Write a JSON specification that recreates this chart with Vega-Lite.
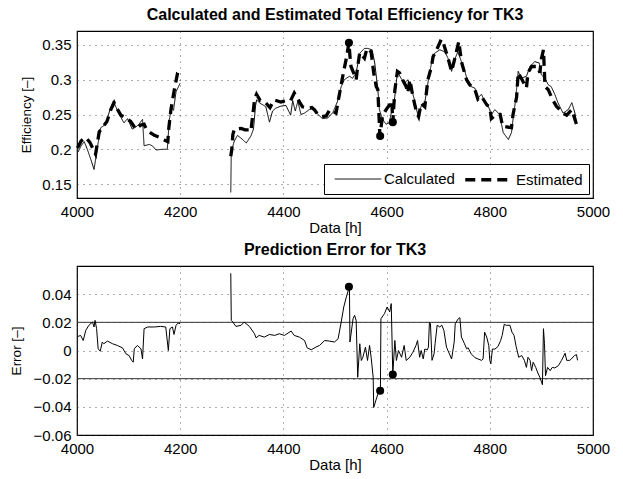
{
  "$schema": "https://vega.github.io/schema/vega-lite/v6.json",
  "padding": {"left": 8, "top": 6, "right": 5, "bottom": 4},
  "background": "white",
  "spacing": 5,
  "resolve": {"legend": {"strokeDash": "independent", "strokeWidth": "independent"}},
  "config": {
    "font": "Liberation Sans",
    "view": {"stroke": "black", "strokeWidth": 1.2},
    "axis": {
      "labelFont": "Liberation Sans", "labelFontSize": 15, "labelColor": "black", "labelOverlap": false, "labelFlush": false,
      "titleFont": "Liberation Sans", "titleFontSize": 15, "titleFontWeight": "normal", "titleColor": "black",
      "domain": false, "ticks": false, "grid": true, "gridColor": "#333", "gridDash": [1, 5], "gridWidth": 1, "gridOpacity": 0.8,
      "labelPadding": 6
    },
    "axisY": {"titleFontSize": 13.5},
    "axisX": {"titlePadding": 1},
    "title": {"font": "Liberation Sans", "fontSize": 16, "fontWeight": "bold", "color": "black", "offset": 8, "anchor": "middle"},
    "legend": {
      "labelFont": "Liberation Sans", "labelFontSize": 15, "labelColor": "black"
    }
  },
  "datasets": {
    "eff": [
      {"h":4002,"v":0.196,"s":"Calculated","g":1},{"h":4008,"v":0.205,"s":"Calculated","g":1},{"h":4014,"v":0.211,"s":"Calculated","g":1},{"h":4020,"v":0.2,"s":"Calculated","g":1},{"h":4027,"v":0.185,"s":"Calculated","g":1},{"h":4033,"v":0.171,"s":"Calculated","g":1},{"h":4040,"v":0.205,"s":"Calculated","g":1},{"h":4046,"v":0.231,"s":"Calculated","g":1},{"h":4056,"v":0.236,"s":"Calculated","g":1},{"h":4063,"v":0.255,"s":"Calculated","g":1},{"h":4070,"v":0.269,"s":"Calculated","g":1},{"h":4076,"v":0.26,"s":"Calculated","g":1},{"h":4082,"v":0.25,"s":"Calculated","g":1},{"h":4091,"v":0.238,"s":"Calculated","g":1},{"h":4098,"v":0.244,"s":"Calculated","g":1},{"h":4107,"v":0.229,"s":"Calculated","g":1},{"h":4114,"v":0.232,"s":"Calculated","g":1},{"h":4120,"v":0.236,"s":"Calculated","g":1},{"h":4127,"v":0.243,"s":"Calculated","g":1},{"h":4130,"v":0.205,"s":"Calculated","g":1},{"h":4140,"v":0.207,"s":"Calculated","g":1},{"h":4146,"v":0.205,"s":"Calculated","g":1},{"h":4153,"v":0.199,"s":"Calculated","g":1},{"h":4166,"v":0.2,"s":"Calculated","g":1},{"h":4175,"v":0.2,"s":"Calculated","g":1},{"h":4179,"v":0.243,"s":"Calculated","g":1},{"h":4183,"v":0.26,"s":"Calculated","g":1},{"h":4187,"v":0.256,"s":"Calculated","g":1},{"h":4192,"v":0.283,"s":"Calculated","g":1},{"h":4200,"v":0.295,"s":"Calculated","g":1},
      {"h":4298,"v":0.138,"s":"Calculated","g":2},{"h":4299,"v":0.197,"s":"Calculated","g":2},{"h":4305,"v":0.212,"s":"Calculated","g":2},{"h":4311,"v":0.22,"s":"Calculated","g":2},{"h":4321,"v":0.214,"s":"Calculated","g":2},{"h":4328,"v":0.209,"s":"Calculated","g":2},{"h":4337,"v":0.219,"s":"Calculated","g":2},{"h":4342,"v":0.229,"s":"Calculated","g":2},{"h":4346,"v":0.262,"s":"Calculated","g":2},{"h":4348,"v":0.271,"s":"Calculated","g":2},{"h":4355,"v":0.266,"s":"Calculated","g":2},{"h":4360,"v":0.264,"s":"Calculated","g":2},{"h":4366,"v":0.261,"s":"Calculated","g":2},{"h":4373,"v":0.239,"s":"Calculated","g":2},{"h":4379,"v":0.255,"s":"Calculated","g":2},{"h":4385,"v":0.259,"s":"Calculated","g":2},{"h":4395,"v":0.262,"s":"Calculated","g":2},{"h":4405,"v":0.263,"s":"Calculated","g":2},{"h":4414,"v":0.249,"s":"Calculated","g":2},{"h":4418,"v":0.27,"s":"Calculated","g":2},{"h":4423,"v":0.255,"s":"Calculated","g":2},{"h":4428,"v":0.269,"s":"Calculated","g":2},{"h":4434,"v":0.25,"s":"Calculated","g":2},{"h":4441,"v":0.252,"s":"Calculated","g":2},{"h":4450,"v":0.257,"s":"Calculated","g":2},{"h":4457,"v":0.259,"s":"Calculated","g":2},{"h":4467,"v":0.25,"s":"Calculated","g":2},{"h":4476,"v":0.244,"s":"Calculated","g":2},{"h":4486,"v":0.245,"s":"Calculated","g":2},{"h":4496,"v":0.253,"s":"Calculated","g":2},{"h":4505,"v":0.269,"s":"Calculated","g":2},{"h":4512,"v":0.29,"s":"Calculated","g":2},{"h":4518,"v":0.3,"s":"Calculated","g":2},{"h":4528,"v":0.305,"s":"Calculated","g":2},{"h":4534,"v":0.302,"s":"Calculated","g":2},{"h":4541,"v":0.31,"s":"Calculated","g":2},{"h":4548,"v":0.338,"s":"Calculated","g":2},{"h":4557,"v":0.345,"s":"Calculated","g":2},{"h":4563,"v":0.345,"s":"Calculated","g":2},{"h":4572,"v":0.343,"s":"Calculated","g":2},{"h":4577,"v":0.324,"s":"Calculated","g":2},{"h":4583,"v":0.286,"s":"Calculated","g":2},{"h":4586,"v":0.257,"s":"Calculated","g":2},{"h":4590,"v":0.248,"s":"Calculated","g":2},{"h":4595,"v":0.24,"s":"Calculated","g":2},{"h":4599,"v":0.236,"s":"Calculated","g":2},{"h":4605,"v":0.238,"s":"Calculated","g":2},{"h":4609,"v":0.252,"s":"Calculated","g":2},{"h":4612,"v":0.256,"s":"Calculated","g":2},{"h":4616,"v":0.276,"s":"Calculated","g":2},{"h":4621,"v":0.312,"s":"Calculated","g":2},{"h":4628,"v":0.302,"s":"Calculated","g":2},{"h":4635,"v":0.295,"s":"Calculated","g":2},{"h":4641,"v":0.3,"s":"Calculated","g":2},{"h":4647,"v":0.29,"s":"Calculated","g":2},{"h":4654,"v":0.271,"s":"Calculated","g":2},{"h":4661,"v":0.248,"s":"Calculated","g":2},{"h":4667,"v":0.262,"s":"Calculated","g":2},{"h":4674,"v":0.267,"s":"Calculated","g":2},{"h":4680,"v":0.295,"s":"Calculated","g":2},{"h":4687,"v":0.324,"s":"Calculated","g":2},{"h":4693,"v":0.338,"s":"Calculated","g":2},{"h":4703,"v":0.343,"s":"Calculated","g":2},{"h":4713,"v":0.34,"s":"Calculated","g":2},{"h":4719,"v":0.331,"s":"Calculated","g":2},{"h":4726,"v":0.312,"s":"Calculated","g":2},{"h":4732,"v":0.329,"s":"Calculated","g":2},{"h":4738,"v":0.34,"s":"Calculated","g":2},{"h":4745,"v":0.326,"s":"Calculated","g":2},{"h":4751,"v":0.314,"s":"Calculated","g":2},{"h":4758,"v":0.295,"s":"Calculated","g":2},{"h":4764,"v":0.29,"s":"Calculated","g":2},{"h":4771,"v":0.288,"s":"Calculated","g":2},{"h":4777,"v":0.274,"s":"Calculated","g":2},{"h":4784,"v":0.279,"s":"Calculated","g":2},{"h":4790,"v":0.269,"s":"Calculated","g":2},{"h":4797,"v":0.262,"s":"Calculated","g":2},{"h":4803,"v":0.25,"s":"Calculated","g":2},{"h":4810,"v":0.257,"s":"Calculated","g":2},{"h":4819,"v":0.25,"s":"Calculated","g":2},{"h":4826,"v":0.224,"s":"Calculated","g":2},{"h":4836,"v":0.214,"s":"Calculated","g":2},{"h":4842,"v":0.224,"s":"Calculated","g":2},{"h":4845,"v":0.243,"s":"Calculated","g":2},{"h":4850,"v":0.271,"s":"Calculated","g":2},{"h":4855,"v":0.312,"s":"Calculated","g":2},{"h":4861,"v":0.302,"s":"Calculated","g":2},{"h":4871,"v":0.305,"s":"Calculated","g":2},{"h":4878,"v":0.319,"s":"Calculated","g":2},{"h":4887,"v":0.326,"s":"Calculated","g":2},{"h":4896,"v":0.324,"s":"Calculated","g":2},{"h":4900,"v":0.307,"s":"Calculated","g":2},{"h":4907,"v":0.302,"s":"Calculated","g":2},{"h":4913,"v":0.293,"s":"Calculated","g":2},{"h":4919,"v":0.29,"s":"Calculated","g":2},{"h":4926,"v":0.279,"s":"Calculated","g":2},{"h":4932,"v":0.267,"s":"Calculated","g":2},{"h":4942,"v":0.252,"s":"Calculated","g":2},{"h":4952,"v":0.257,"s":"Calculated","g":2},{"h":4959,"v":0.267,"s":"Calculated","g":2},{"h":4965,"v":0.252,"s":"Calculated","g":2},{"h":4968,"v":0.238,"s":"Calculated","g":2},
      {"h":4001,"v":0.202,"s":"Estimated","g":1},{"h":4008,"v":0.212,"s":"Estimated","g":1},{"h":4017,"v":0.217,"s":"Estimated","g":1},{"h":4025,"v":0.21,"s":"Estimated","g":1},{"h":4036,"v":0.193,"s":"Estimated","g":1},{"h":4043,"v":0.225,"s":"Estimated","g":1},{"h":4050,"v":0.232,"s":"Estimated","g":1},{"h":4058,"v":0.24,"s":"Estimated","g":1},{"h":4066,"v":0.258,"s":"Estimated","g":1},{"h":4072,"v":0.267,"s":"Estimated","g":1},{"h":4078,"v":0.258,"s":"Estimated","g":1},{"h":4085,"v":0.249,"s":"Estimated","g":1},{"h":4093,"v":0.246,"s":"Estimated","g":1},{"h":4104,"v":0.24,"s":"Estimated","g":1},{"h":4114,"v":0.229,"s":"Estimated","g":1},{"h":4124,"v":0.235,"s":"Estimated","g":1},{"h":4130,"v":0.236,"s":"Estimated","g":1},{"h":4135,"v":0.228,"s":"Estimated","g":1},{"h":4142,"v":0.224,"s":"Estimated","g":1},{"h":4150,"v":0.22,"s":"Estimated","g":1},{"h":4160,"v":0.217,"s":"Estimated","g":1},{"h":4170,"v":0.213,"s":"Estimated","g":1},{"h":4176,"v":0.211,"s":"Estimated","g":1},{"h":4178,"v":0.231,"s":"Estimated","g":1},{"h":4182,"v":0.257,"s":"Estimated","g":1},{"h":4188,"v":0.283,"s":"Estimated","g":1},{"h":4195,"v":0.31,"s":"Estimated","g":1},{"h":4200,"v":0.315,"s":"Estimated","g":1},
      {"h":4298,"v":0.19,"s":"Estimated","g":2},{"h":4300,"v":0.2,"s":"Estimated","g":2},{"h":4302,"v":0.221,"s":"Estimated","g":2},{"h":4305,"v":0.229,"s":"Estimated","g":2},{"h":4318,"v":0.23,"s":"Estimated","g":2},{"h":4326,"v":0.228,"s":"Estimated","g":2},{"h":4334,"v":0.228,"s":"Estimated","g":2},{"h":4337,"v":0.226,"s":"Estimated","g":2},{"h":4344,"v":0.271,"s":"Estimated","g":2},{"h":4348,"v":0.279,"s":"Estimated","g":2},{"h":4355,"v":0.27,"s":"Estimated","g":2},{"h":4363,"v":0.269,"s":"Estimated","g":2},{"h":4368,"v":0.265,"s":"Estimated","g":2},{"h":4374,"v":0.26,"s":"Estimated","g":2},{"h":4382,"v":0.271,"s":"Estimated","g":2},{"h":4395,"v":0.268,"s":"Estimated","g":2},{"h":4405,"v":0.27,"s":"Estimated","g":2},{"h":4414,"v":0.27,"s":"Estimated","g":2},{"h":4421,"v":0.281,"s":"Estimated","g":2},{"h":4425,"v":0.276,"s":"Estimated","g":2},{"h":4432,"v":0.267,"s":"Estimated","g":2},{"h":4437,"v":0.261,"s":"Estimated","g":2},{"h":4447,"v":0.259,"s":"Estimated","g":2},{"h":4455,"v":0.26,"s":"Estimated","g":2},{"h":4460,"v":0.257,"s":"Estimated","g":2},{"h":4467,"v":0.25,"s":"Estimated","g":2},{"h":4475,"v":0.247,"s":"Estimated","g":2},{"h":4483,"v":0.248,"s":"Estimated","g":2},{"h":4490,"v":0.257,"s":"Estimated","g":2},{"h":4502,"v":0.252,"s":"Estimated","g":2},{"h":4509,"v":0.281,"s":"Estimated","g":2},{"h":4515,"v":0.305,"s":"Estimated","g":2},{"h":4522,"v":0.331,"s":"Estimated","g":2},{"h":4527,"v":0.353,"s":"Estimated","g":2},{"h":4529,"v":0.334,"s":"Estimated","g":2},{"h":4531,"v":0.319,"s":"Estimated","g":2},{"h":4536,"v":0.31,"s":"Estimated","g":2},{"h":4541,"v":0.3,"s":"Estimated","g":2},{"h":4544,"v":0.319,"s":"Estimated","g":2},{"h":4548,"v":0.339,"s":"Estimated","g":2},{"h":4557,"v":0.331,"s":"Estimated","g":2},{"h":4562,"v":0.345,"s":"Estimated","g":2},{"h":4570,"v":0.34,"s":"Estimated","g":2},{"h":4575,"v":0.31,"s":"Estimated","g":2},{"h":4580,"v":0.29,"s":"Estimated","g":2},{"h":4583,"v":0.286,"s":"Estimated","g":2},{"h":4587,"v":0.219,"s":"Estimated","g":2},{"h":4592,"v":0.248,"s":"Estimated","g":2},{"h":4599,"v":0.257,"s":"Estimated","g":2},{"h":4607,"v":0.265,"s":"Estimated","g":2},{"h":4610,"v":0.27,"s":"Estimated","g":2},{"h":4612,"v":0.239,"s":"Estimated","g":2},{"h":4616,"v":0.285,"s":"Estimated","g":2},{"h":4621,"v":0.312,"s":"Estimated","g":2},{"h":4625,"v":0.31,"s":"Estimated","g":2},{"h":4631,"v":0.3,"s":"Estimated","g":2},{"h":4638,"v":0.29,"s":"Estimated","g":2},{"h":4641,"v":0.281,"s":"Estimated","g":2},{"h":4645,"v":0.3,"s":"Estimated","g":2},{"h":4651,"v":0.276,"s":"Estimated","g":2},{"h":4658,"v":0.253,"s":"Estimated","g":2},{"h":4662,"v":0.247,"s":"Estimated","g":2},{"h":4667,"v":0.266,"s":"Estimated","g":2},{"h":4674,"v":0.261,"s":"Estimated","g":2},{"h":4680,"v":0.3,"s":"Estimated","g":2},{"h":4687,"v":0.319,"s":"Estimated","g":2},{"h":4690,"v":0.333,"s":"Estimated","g":2},{"h":4697,"v":0.343,"s":"Estimated","g":2},{"h":4706,"v":0.358,"s":"Estimated","g":2},{"h":4709,"v":0.355,"s":"Estimated","g":2},{"h":4719,"v":0.331,"s":"Estimated","g":2},{"h":4726,"v":0.312,"s":"Estimated","g":2},{"h":4732,"v":0.33,"s":"Estimated","g":2},{"h":4740,"v":0.355,"s":"Estimated","g":2},{"h":4745,"v":0.326,"s":"Estimated","g":2},{"h":4751,"v":0.31,"s":"Estimated","g":2},{"h":4755,"v":0.3,"s":"Estimated","g":2},{"h":4761,"v":0.293,"s":"Estimated","g":2},{"h":4771,"v":0.286,"s":"Estimated","g":2},{"h":4777,"v":0.272,"s":"Estimated","g":2},{"h":4784,"v":0.276,"s":"Estimated","g":2},{"h":4794,"v":0.264,"s":"Estimated","g":2},{"h":4800,"v":0.26,"s":"Estimated","g":2},{"h":4803,"v":0.244,"s":"Estimated","g":2},{"h":4813,"v":0.25,"s":"Estimated","g":2},{"h":4820,"v":0.25,"s":"Estimated","g":2},{"h":4825,"v":0.233,"s":"Estimated","g":2},{"h":4842,"v":0.231,"s":"Estimated","g":2},{"h":4845,"v":0.25,"s":"Estimated","g":2},{"h":4852,"v":0.275,"s":"Estimated","g":2},{"h":4855,"v":0.31,"s":"Estimated","g":2},{"h":4861,"v":0.302,"s":"Estimated","g":2},{"h":4871,"v":0.288,"s":"Estimated","g":2},{"h":4874,"v":0.31,"s":"Estimated","g":2},{"h":4881,"v":0.319,"s":"Estimated","g":2},{"h":4893,"v":0.319,"s":"Estimated","g":2},{"h":4897,"v":0.31,"s":"Estimated","g":2},{"h":4900,"v":0.33,"s":"Estimated","g":2},{"h":4904,"v":0.343,"s":"Estimated","g":2},{"h":4907,"v":0.29,"s":"Estimated","g":2},{"h":4913,"v":0.286,"s":"Estimated","g":2},{"h":4922,"v":0.271,"s":"Estimated","g":2},{"h":4929,"v":0.262,"s":"Estimated","g":2},{"h":4942,"v":0.252,"s":"Estimated","g":2},{"h":4949,"v":0.249,"s":"Estimated","g":2},{"h":4959,"v":0.257,"s":"Estimated","g":2},{"h":4968,"v":0.236,"s":"Estimated","g":2}
    ],
    "err": [
      {"h":4002,"e":0.010,"g":1},{"h":4007,"e":0.0107,"g":1},{"h":4012,"e":0.0071,"g":1},{"h":4017,"e":0.0143,"g":1},{"h":4023,"e":0.0179,"g":1},{"h":4030,"e":0.0202,"g":1},{"h":4033,"e":0.0167,"g":1},{"h":4035,"e":0.0214,"g":1},{"h":4038,"e":0.0155,"g":1},{"h":4041,"e":0.0012,"g":1},{"h":4045,"e":-0.0005,"g":1},{"h":4049,"e":0.006,"g":1},{"h":4052,"e":0.0048,"g":1},{"h":4059,"e":0.0067,"g":1},{"h":4069,"e":0.0048,"g":1},{"h":4078,"e":0.0036,"g":1},{"h":4088,"e":0.0019,"g":1},{"h":4095,"e":-0.0024,"g":1},{"h":4101,"e":-0.0036,"g":1},{"h":4106,"e":-0.0071,"g":1},{"h":4109,"e":-0.0083,"g":1},{"h":4111,"e":0.0012,"g":1},{"h":4117,"e":0.0036,"g":1},{"h":4124,"e":0.0012,"g":1},{"h":4127,"e":-0.006,"g":1},{"h":4130,"e":0.0155,"g":1},{"h":4137,"e":0.0167,"g":1},{"h":4150,"e":0.0167,"g":1},{"h":4162,"e":0.0171,"g":1},{"h":4172,"e":0.0167,"g":1},{"h":4177,"e":0.0,"g":1},{"h":4180,"e":0.0155,"g":1},{"h":4185,"e":0.0167,"g":1},{"h":4188,"e":0.0114,"g":1},{"h":4192,"e":0.0179,"g":1},{"h":4196,"e":0.0195,"g":1},{"h":4200,"e":0.019,"g":1},
      {"h":4298,"e":0.0548,"g":2},{"h":4299,"e":0.0214,"g":2},{"h":4302,"e":0.0202,"g":2},{"h":4308,"e":0.0171,"g":2},{"h":4318,"e":0.0179,"g":2},{"h":4324,"e":0.0202,"g":2},{"h":4334,"e":0.0171,"g":2},{"h":4344,"e":0.0119,"g":2},{"h":4347,"e":0.009,"g":2},{"h":4353,"e":0.0107,"g":2},{"h":4363,"e":0.0095,"g":2},{"h":4373,"e":0.0114,"g":2},{"h":4383,"e":0.0107,"g":2},{"h":4392,"e":0.0119,"g":2},{"h":4402,"e":0.0107,"g":2},{"h":4415,"e":0.0138,"g":2},{"h":4421,"e":0.0107,"g":2},{"h":4431,"e":0.0095,"g":2},{"h":4441,"e":0.0071,"g":2},{"h":4446,"e":0.0019,"g":2},{"h":4454,"e":0.0005,"g":2},{"h":4463,"e":0.0024,"g":2},{"h":4470,"e":0.0036,"g":2},{"h":4480,"e":0.0071,"g":2},{"h":4489,"e":0.0067,"g":2},{"h":4499,"e":0.006,"g":2},{"h":4506,"e":0.0083,"g":2},{"h":4512,"e":0.0202,"g":2},{"h":4517,"e":0.0309,"g":2},{"h":4522,"e":0.0381,"g":2},{"h":4528,"e":0.0452,"g":2},{"h":4529,"e":0.006,"g":2},{"h":4535,"e":0.0226,"g":2},{"h":4538,"e":0.025,"g":2},{"h":4541,"e":0.0214,"g":2},{"h":4544,"e":-0.019,"g":2},{"h":4548,"e":0.0048,"g":2},{"h":4551,"e":-0.0071,"g":2},{"h":4554,"e":-0.0048,"g":2},{"h":4559,"e":0.0024,"g":2},{"h":4563,"e":-0.0071,"g":2},{"h":4567,"e":0.0036,"g":2},{"h":4570,"e":-0.0048,"g":2},{"h":4574,"e":-0.019,"g":2},{"h":4575,"e":-0.0405,"g":2},{"h":4580,"e":-0.0345,"g":2},{"h":4583,"e":-0.031,"g":2},{"h":4588,"e":-0.0286,"g":2},{"h":4589,"e":0.0226,"g":2},{"h":4596,"e":0.0262,"g":2},{"h":4601,"e":0.0309,"g":2},{"h":4606,"e":0.0274,"g":2},{"h":4609,"e":0.0333,"g":2},{"h":4612,"e":-0.0171,"g":2},{"h":4616,"e":0.0071,"g":2},{"h":4619,"e":-0.0071,"g":2},{"h":4623,"e":0.0,"g":2},{"h":4629,"e":-0.0048,"g":2},{"h":4634,"e":0.0036,"g":2},{"h":4638,"e":-0.0071,"g":2},{"h":4645,"e":-0.0048,"g":2},{"h":4651,"e":-0.0012,"g":2},{"h":4657,"e":0.0036,"g":2},
      {"h":4660,"e":0.0071,"g":2},{"h":4664,"e":-0.0048,"g":2},{"h":4667,"e":0.0,"g":2},{"h":4671,"e":-0.006,"g":2},{"h":4674,"e":0.001,"g":2},{"h":4679,"e":0.0005,"g":2},{"h":4681,"e":0.0024,"g":2},{"h":4683,"e":0.02,"g":2},{"h":4685,"e":0.019,"g":2},{"h":4688,"e":-0.007,"g":2},{"h":4692,"e":-0.0024,"g":2},{"h":4694,"e":0.0048,"g":2},{"h":4698,"e":0.018,"g":2},{"h":4703,"e":0.0167,"g":2},{"h":4707,"e":0.018,"g":2},{"h":4711,"e":0.0143,"g":2},{"h":4716,"e":0.0024,"g":2},{"h":4726,"e":-0.006,"g":2},{"h":4731,"e":0.006,"g":2},{"h":4733,"e":0.019,"g":2},{"h":4739,"e":0.0226,"g":2},{"h":4742,"e":0.0233,"g":2},{"h":4745,"e":0.0095,"g":2},{"h":4751,"e":0.0048,"g":2},{"h":4755,"e":0.0012,"g":2},{"h":4758,"e":0.0019,"g":2},{"h":4764,"e":-0.0024,"g":2},{"h":4771,"e":-0.005,"g":2},{"h":4777,"e":-0.006,"g":2},{"h":4784,"e":-0.007,"g":2},{"h":4787,"e":-0.006,"g":2},{"h":4790,"e":0.013,"g":2},{"h":4794,"e":0.0095,"g":2},{"h":4798,"e":0.0036,"g":2},{"h":4800,"e":-0.007,"g":2},{"h":4802,"e":-0.0095,"g":2},{"h":4805,"e":0.001,"g":2},{"h":4810,"e":0.001,"g":2},{"h":4816,"e":0.0029,"g":2},{"h":4821,"e":0.0071,"g":2},{"h":4824,"e":0.0107,"g":2},{"h":4828,"e":0.0186,"g":2},{"h":4832,"e":0.0179,"g":2},{"h":4839,"e":0.0179,"g":2},{"h":4843,"e":0.013,"g":2},{"h":4847,"e":0.0107,"g":2},{"h":4851,"e":0.0029,"g":2},{"h":4853,"e":0.0,"g":2},{"h":4856,"e":-0.0048,"g":2},{"h":4862,"e":-0.0036,"g":2},{"h":4867,"e":-0.007,"g":2},{"h":4871,"e":-0.012,"g":2},{"h":4874,"e":-0.0048,"g":2},{"h":4878,"e":-0.007,"g":2},{"h":4881,"e":-0.0143,"g":2},{"h":4884,"e":-0.0083,"g":2},{"h":4889,"e":-0.012,"g":2},{"h":4894,"e":-0.0167,"g":2},{"h":4897,"e":-0.019,"g":2},{"h":4902,"e":-0.0243,"g":2},{"h":4904,"e":0.0155,"g":2},{"h":4906,"e":0.0048,"g":2},{"h":4908,"e":-0.0179,"g":2},{"h":4912,"e":-0.012,"g":2},{"h":4917,"e":-0.0143,"g":2},{"h":4921,"e":-0.012,"g":2},{"h":4926,"e":-0.0124,"g":2},{"h":4933,"e":-0.0107,"g":2},{"h":4939,"e":-0.007,"g":2},{"h":4946,"e":-0.0019,"g":2},{"h":4949,"e":-0.007,"g":2},{"h":4955,"e":-0.007,"g":2},{"h":4958,"e":-0.006,"g":2},{"h":4964,"e":-0.0036,"g":2},{"h":4968,"e":-0.0029,"g":2},{"h":4970,"e":-0.007,"g":2}
    ],
    "mk": [
      {"h":4527,"v":0.353,"e":0.0452},{"h":4587.5,"v":0.219,"e":-0.0286},{"h":4612,"v":0.239,"e":-0.0171}
    ],
    "thr": [{"e":0.02},{"e":-0.02}]
  },
  "vconcat": [
    {
      "width": 516, "height": 167,
      "title": "Calculated and Estimated Total Efficiency for TK3",
      "layer": [
        {
          "data": {"name": "eff"},
          "mark": {"type": "line", "color": "black", "strokeCap": "butt"},
          "encoding": {
            "x": {"field": "h", "type": "quantitative", "scale": {"domain": [4000, 5000], "nice": false, "zero": false}, "axis": {"values": [4000, 4200, 4400, 4600, 4800, 5000], "format": "d", "title": "Data [h]"}},
            "y": {"field": "v", "type": "quantitative", "scale": {"domain": [0.13, 0.37], "nice": false, "zero": false}, "axis": {"values": [0.15, 0.2, 0.25, 0.3, 0.35], "format": ".2~f", "title": "Efficiency [–]", "titlePadding": 8}},
            "detail": {"field": "g", "type": "nominal"},
            "strokeDash": {"field": "s", "type": "ordinal", "scale": {"domain": ["Calculated", "Estimated"], "range": [[1, 0], [10, 6]]},
              "legend": {"orient": "bottom-right", "direction": "horizontal", "title": null, "fillColor": "white", "strokeColor": "black", "padding": 6, "offset": 4,
                "labelFontSize": 15, "symbolType": "M-3.1,0L3.1,0", "symbolSize": 225, "symbolStrokeColor": "black", "symbolFillColor": "transparent", "symbolOffset": 20, "labelOffset": 18, "columnPadding": 3}},
            "strokeWidth": {"field": "s", "type": "ordinal", "scale": {"domain": ["Calculated", "Estimated"], "range": [1, 3.3]},
              "legend": {"orient": "bottom-right", "direction": "horizontal", "title": null, "fillColor": "white", "strokeColor": "black", "padding": 6, "offset": 4,
                "labelFontSize": 15, "symbolType": "M-3.1,0L3.1,0", "symbolSize": 225, "symbolStrokeColor": "black", "symbolFillColor": "transparent", "symbolOffset": 20, "labelOffset": 18, "columnPadding": 3}}
          }
        },
        {
          "data": {"name": "mk"},
          "mark": {"type": "point", "filled": true, "color": "black", "size": 65, "opacity": 1},
          "encoding": {
            "x": {"field": "h", "type": "quantitative", "axis": {"values": [4000, 4200, 4400, 4600, 4800, 5000], "format": "d", "title": "Data [h]"}},
            "y": {"field": "v", "type": "quantitative", "axis": {"values": [0.15, 0.2, 0.25, 0.3, 0.35], "format": ".2~f", "title": "Efficiency [–]", "titlePadding": 8}}
          }
        }
      ]
    },
    {
      "width": 516, "height": 169,
      "title": "Prediction Error for TK3",
      "layer": [
        {
          "data": {"name": "thr"},
          "mark": {"type": "rule", "color": "#333", "strokeWidth": 1},
          "encoding": {
            "y": {"field": "e", "type": "quantitative", "scale": {"domain": [-0.06, 0.06], "nice": false, "zero": false}, "axis": {"values": [-0.06, -0.04, -0.02, 0, 0.02, 0.04], "format": ".2~f", "title": "Error [–]", "titlePadding": 10}}
          }
        },
        {
          "data": {"name": "err"},
          "mark": {"type": "line", "color": "black", "strokeWidth": 1},
          "encoding": {
            "x": {"field": "h", "type": "quantitative", "scale": {"domain": [4000, 5000], "nice": false, "zero": false}, "axis": {"values": [4000, 4200, 4400, 4600, 4800, 5000], "format": "d", "title": "Data [h]"}},
            "y": {"field": "e", "type": "quantitative", "scale": {"domain": [-0.06, 0.06], "nice": false, "zero": false}, "axis": {"values": [-0.06, -0.04, -0.02, 0, 0.02, 0.04], "format": ".2~f", "title": "Error [–]", "titlePadding": 10}},
            "detail": {"field": "g", "type": "nominal"}
          }
        },
        {
          "data": {"name": "mk"},
          "mark": {"type": "point", "filled": true, "color": "black", "size": 65, "opacity": 1},
          "encoding": {
            "x": {"field": "h", "type": "quantitative", "axis": {"values": [4000, 4200, 4400, 4600, 4800, 5000], "format": "d", "title": "Data [h]"}},
            "y": {"field": "e", "type": "quantitative", "axis": {"values": [-0.06, -0.04, -0.02, 0, 0.02, 0.04], "format": ".2~f", "title": "Error [–]", "titlePadding": 10}}
          }
        }
      ]
    }
  ]
}
